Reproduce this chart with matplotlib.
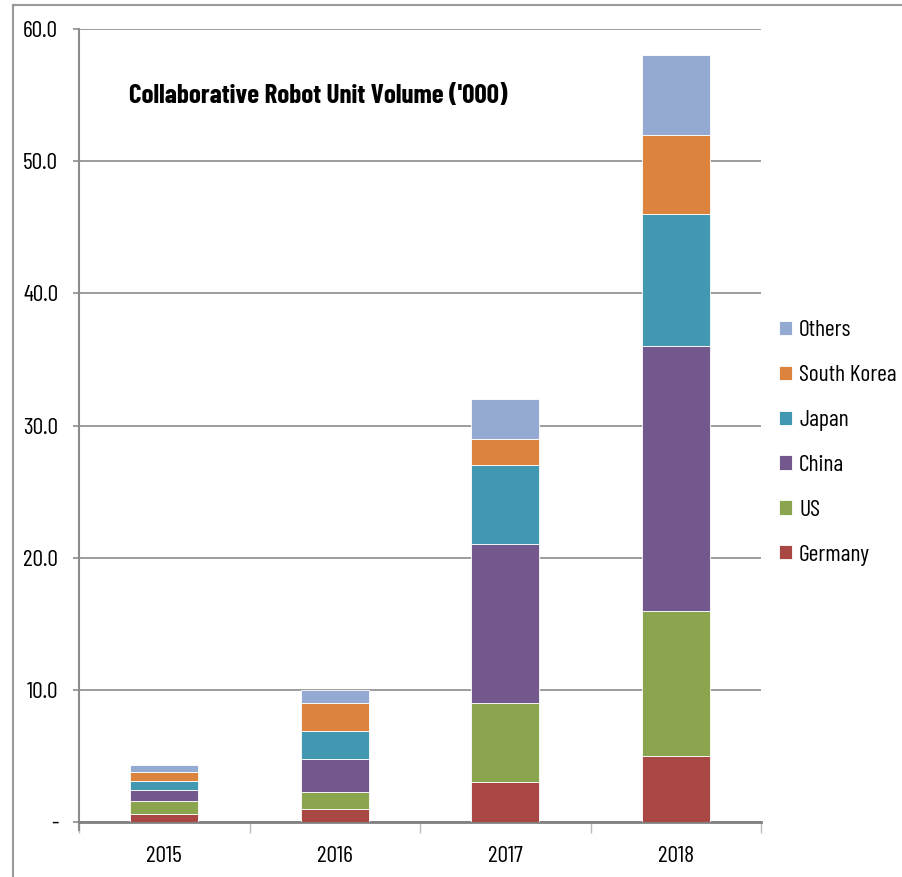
import matplotlib
matplotlib.use("Agg")
import matplotlib.pyplot as plt
from matplotlib import font_manager
from matplotlib.lines import Line2D
import numpy as np

years = ["2015", "2016", "2017", "2018"]
series_names = ["Germany", "US", "China", "Japan", "South Korea", "Others"]
germany = [0.6, 1.0, 3.0, 5.0]
us = [1.0, 1.3, 6.0, 11.0]
china = [0.8, 2.5, 12.0, 20.0]
japan = [0.7, 2.1, 6.0, 10.0]
south_korea = [0.7, 2.1, 2.0, 6.0]
others = [0.5, 1.0, 3.0, 6.0]
colors = ["#A94744", "#8AA54D", "#72588D", "#4298B0", "#DC833D", "#94AAD2"]
yticks = [0, 10, 20, 30, 40, 50, 60]
ytick_labels = ["-", "10.0", "20.0", "30.0", "40.0", "50.0", "60.0"]
title = "Collaborative Robot Unit Volume ('000)"

names = {f.name for f in font_manager.fontManager.ttflist}
fam = "DejaVu Sans"
for cand in ["Barlow Condensed", "Barlow Semi Condensed", "Liberation Sans Narrow"]:
    if cand in names:
        fam = cand
        break
plt.rcParams["font.family"] = [fam, "DejaVu Sans"]

fig = plt.figure(figsize=(9.02, 8.77), dpi=100)
ax = fig.add_axes([79 / 902, 1 - 822 / 877, (761 - 79) / 902, (822 - 29) / 877])

data = [germany, us, china, japan, south_korea, others]
x = np.arange(len(years))
bottom = np.zeros(len(years))
handles = []
for name, vals, c in zip(series_names, data, colors):
    b = ax.bar(x, vals, width=0.4, bottom=bottom, color=c, edgecolor="white",
               linewidth=0.6, label=name, zorder=3)
    bottom += np.array(vals)
    handles.append(b)

ax.set_xlim(-0.5, 3.5)
ax.set_ylim(0, 60)
ax.set_yticks(yticks)
ax.set_yticklabels(ytick_labels, fontsize=17)
ax.yaxis.grid(True, color="#8C8C8C", linewidth=1.2, zorder=0)
ax.set_axisbelow(True)
ax.tick_params(axis="y", length=4.5, width=1.2, color="#8C8C8C", pad=10.5)
ax.set_xticks(x)
ax.set_xticklabels(years, fontsize=17)
ax.tick_params(axis="x", length=0, pad=17)
ax.set_xticks(np.arange(-0.5, 4.0, 1.0), minor=True)
ax.tick_params(axis="x", which="minor", length=8, width=1.0, color="#BBBBBB")
for s in ["top", "right"]:
    ax.spines[s].set_visible(False)
ax.spines["left"].set_color("#8C8C8C")
ax.spines["left"].set_linewidth(1.5)
ax.spines["bottom"].set_color("#808080")
ax.spines["bottom"].set_linewidth(2.0)
ax.spines["left"].set_bounds(-0.6, 60)

ax.text(0.073, 0.915, title, transform=ax.transAxes, fontsize=19.5,
        fontweight="bold", ha="left", va="center")

leg = fig.legend(handles=handles[::-1], labels=series_names[::-1],
                 loc="center left", bbox_to_anchor=(779 / 902, 1 - 443 / 877),
                 frameon=False, fontsize=17, handlelength=0.55, handleheight=0.55,
                 handletextpad=0.3, labelspacing=1.01, borderaxespad=0,
                 borderpad=0)

# outer frame (left and top)
fig.add_artist(Line2D([12.5 / 902, 12.5 / 902], [0, 1 - 5 / 877],
                      transform=fig.transFigure, color="#999999", linewidth=1.5))
fig.add_artist(Line2D([12.5 / 902, 1], [1 - 5 / 877, 1 - 5 / 877],
                      transform=fig.transFigure, color="#999999", linewidth=1.5))

fig.savefig("out.png", dpi=100)
